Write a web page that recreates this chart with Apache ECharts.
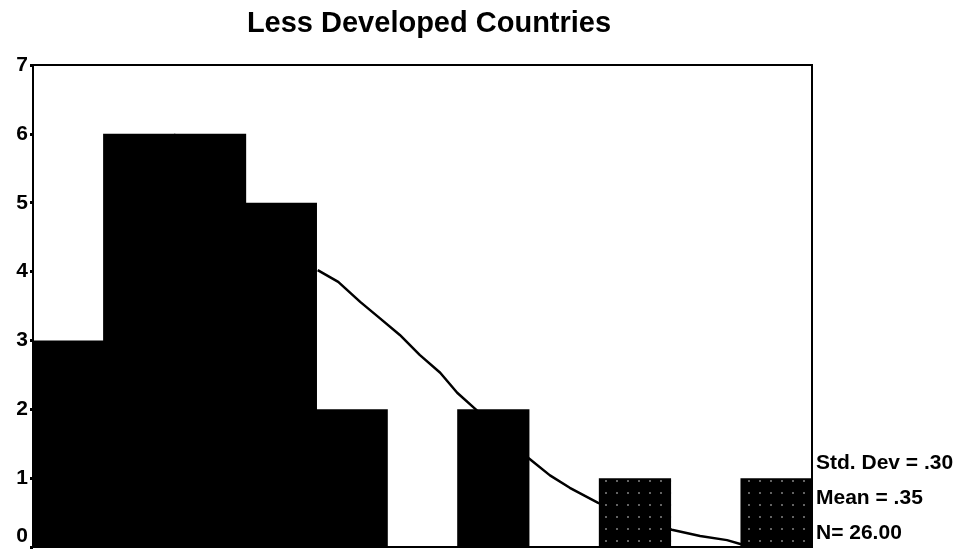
<!DOCTYPE html>
<html>
<head>
<meta charset="utf-8">
<script src="https://cdn.jsdelivr.net/npm/echarts@6/dist/echarts.min.js"></script>
<style>
  html, body { margin: 0; padding: 0; background: #fff; }
  #chart { width: 971px; height: 551px; }
</style>
</head>
<body>
<div id="chart"></div>
<script>
// Histogram bins (midpoints) and their frequencies
const binMidpoints = ['.06', '.19', '.31', '.44', '.56', '.69', '.81', '.94', '1.06', '1.19', '1.31'];
const counts = [3, 6, 6, 5, 2, 0, 2, 0, 1, 0, 1];

// Fitted normal curve, x measured in bin widths from the left edge
const curveX = [4.02, 4.31, 4.62, 4.90, 5.18, 5.46, 5.75, 5.99, 6.24, 7.00, 7.30, 7.58, 7.98, 9.02, 9.42, 9.80, 10.0];
const curveY = [4.02, 3.85, 3.56, 3.32, 3.08, 2.79, 2.53, 2.24, 2.01, 1.29, 1.04, 0.86, 0.64, 0.25, 0.16, 0.10, 0.04];

// Summary statistics
const statLines = ['Std. Dev = .30', 'Mean = .35', 'N= 26.00'];
const chartTitle = 'Less Developed Countries';

const font = '"Liberation Sans", Arial, sans-serif';
const chart = echarts.init(document.getElementById('chart'), null, { renderer: 'canvas' });

// Bars with few counts carry a light dotted pattern
const dotted = {
  symbol: 'rect',
  symbolSize: 1,
  color: 'rgba(110,110,110,0.9)',
  dashArrayX: [1.5, 9],
  dashArrayY: [1.5, 10],
  rotation: 0
};
const barData = counts.map(v => (v === 1 ? { value: v, itemStyle: { decal: dotted } } : v));

chart.setOption({
  animation: false,
  backgroundColor: '#fff',
  aria: { enabled: false },
  grid: {
    left: 33, top: 65, right: 159, bottom: 4,
    containLabel: false,
    outerBoundsMode: 'none',
    show: true, borderColor: '#000', borderWidth: 2, backgroundColor: 'transparent'
  },
  xAxis: [
    {
      type: 'category',
      data: binMidpoints,
      boundaryGap: true,
      axisLine: { lineStyle: { color: '#000', width: 2 } },
      axisTick: { alignWithLabel: true, length: 4, lineStyle: { color: '#000', width: 2 } },
      axisLabel: { show: false },
      splitLine: { show: false }
    },
    {
      type: 'value',
      min: 0, max: 11,
      show: false
    }
  ],
  yAxis: {
    type: 'value',
    min: 0, max: 7, interval: 1,
    axisLine: { show: true, lineStyle: { color: '#000', width: 2 } },
    axisTick: { show: true, length: 3, lineStyle: { color: '#000', width: 3 } },
    axisLabel: {
      color: '#000', fontSize: 21, fontWeight: 'bold', fontFamily: font, margin: 5,
      verticalAlignMinLabel: 'bottom'
    },
    splitLine: { show: false }
  },
  series: [
    {
      type: 'line',
      xAxisIndex: 1,
      data: curveX.map((x, i) => [x, curveY[i]]),
      showSymbol: false,
      smooth: false,
      lineStyle: { color: '#000', width: 2.5, join: 'round' },
      z: 1
    },
    {
      type: 'bar',
      xAxisIndex: 0,
      data: barData,
      barWidth: '102%',
      itemStyle: { color: '#000' },
      z: 3
    }
  ],
  graphic: [
    {
      type: 'text', x: 429, y: 24,
      style: {
        text: chartTitle, fill: '#000', font: 'bold 29px ' + font,
        align: 'center', verticalAlign: 'middle'
      }
    }
  ].concat(statLines.map((t, i) => ({
    type: 'text', x: 816, y: 463 + i * 35,
    style: { text: t, fill: '#000', font: 'bold 21px ' + font, align: 'left', verticalAlign: 'middle' }
  })))
});
</script>
</body>
</html>
